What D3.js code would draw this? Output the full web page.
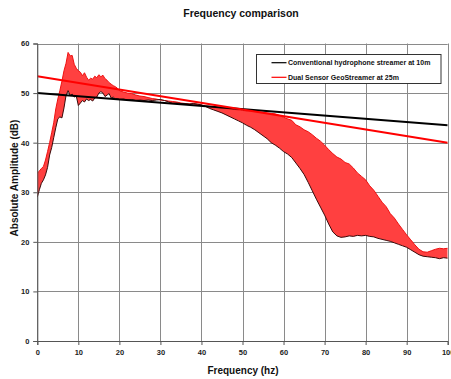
<!DOCTYPE html>
<html>
<head>
<meta charset="utf-8">
<script src="https://cdn.jsdelivr.net/npm/d3@7/dist/d3.min.js"></script>
<style>
  html, body { margin: 0; padding: 0; background: #fff; }
  svg { display: block; font-family: "Liberation Sans", Arial, sans-serif; }
</style>
</head>
<body>
<svg id="chart" width="451" height="379"></svg>
<script>
// Spectrum sample frequencies (Hz)
const freq = [
  0, 0.5, 1, 1.5, 2, 2.5, 3, 3.5, 4, 4.5, 5, 5.5, 6, 6.5, 7, 7.5, 8, 8.5, 9, 9.5,
  10, 10.5, 11, 11.5, 12, 12.5, 13, 13.5, 14, 14.5, 15, 15.5, 16, 16.5, 17, 17.5, 18, 18.5, 19, 19.5,
  20, 21, 22, 23, 24, 25, 26, 27, 28, 29, 30, 31, 32, 33, 34, 35, 36, 37, 38, 39,
  40, 41, 42, 43, 44, 45, 46, 47, 48, 49, 50, 51, 52, 53, 54, 55, 56, 57, 58, 59,
  60, 61, 62, 63, 64, 65, 66, 67, 68, 69, 70, 71, 72, 73, 74, 75, 76, 77, 78, 79,
  80, 81, 82, 83, 84, 85, 86, 87, 88, 89, 90, 91, 92, 93, 94, 95, 96, 97, 98, 99, 100
];

// Conventional hydrophone streamer at 10m (dB)
const conventional = [
  29.0, 30.5, 31.8, 32.5, 33.5, 35.0, 37.5, 39.0, 41.0, 43.0, 44.8, 45.2, 45.0, 47.0, 49.5, 50.5, 49.5, 49.8, 49.2, 49.4,
  47.5, 48.0, 48.5, 48.2, 48.8, 48.5, 48.7, 48.4, 49.0, 49.2, 50.0, 50.3, 50.0, 49.3, 49.6, 49.9, 49.0, 49.2, 48.8, 48.9,
  48.7, 48.8, 48.6, 48.7, 48.5, 48.6, 48.5, 48.6, 48.5, 48.6, 48.7, 48.5, 48.2, 47.9, 48.0, 47.9, 47.9, 47.8, 47.9, 47.8,
  47.6, 47.3, 46.9, 46.6, 46.3, 46.0, 45.6, 45.2, 44.8, 44.4, 44.0, 43.5, 43.1, 42.6, 42.0, 41.4, 40.8, 40.0, 39.5, 38.9,
  38.2, 37.7, 37.0, 35.9, 34.8, 33.6, 32.0, 30.3, 28.6, 27.0, 25.4, 23.6, 22.0, 21.2, 20.9, 21.0, 21.2, 21.1, 21.3, 21.2,
  21.3, 21.1, 21.0, 20.7, 20.5, 20.3, 20.1, 19.8, 19.5, 19.2, 18.9, 18.4, 17.9, 17.4, 17.1, 17.0, 16.9, 16.8, 16.6, 16.8, 16.7
];

// Dual Sensor GeoStreamer at 25m (dB)
const dualSensor = [
  33.8, 34.3, 34.8, 35.2, 36.5, 38.2, 40.0, 42.0, 44.0, 46.8, 48.8, 50.5, 52.4, 54.5, 56.0, 58.2, 57.5, 57.6, 55.8, 55.0,
  54.5, 54.2, 53.5, 54.1, 53.2, 52.6, 53.0, 52.8, 53.4, 53.1, 53.7, 53.3, 53.6, 52.9, 52.6, 52.1, 51.8, 51.5, 51.3, 51.0,
  50.5, 50.2, 50.0, 49.9, 49.6, 49.4, 49.3, 49.1, 48.9, 48.8, 48.6, 48.5, 48.4, 48.3, 48.2, 48.0, 47.9, 47.8, 47.8, 47.7,
  47.6, 47.4, 47.3, 47.2, 47.1, 47.0, 46.9, 46.8, 46.7, 46.6, 46.5, 46.4, 46.3, 46.3, 46.2, 46.1, 46.0, 45.9, 45.8, 45.5,
  45.1, 44.8, 44.5, 43.6, 43.2, 42.6, 42.2, 41.6, 40.9, 40.3, 39.5, 38.6, 37.8, 37.1, 36.7, 36.0, 35.7, 34.9, 33.9, 33.2,
  32.5, 31.3, 30.4, 29.2, 28.0, 27.1, 25.7, 24.8, 23.6, 22.5, 21.4, 20.4, 19.4, 18.5, 18.0, 17.9, 18.2, 18.5, 18.7, 18.6, 18.7
];

// Straight-line trends: [value at 0 Hz, value at 100 Hz]
const trendFreq = [0, 100];
const conventionalTrend = [50.0, 43.5];
const dualSensorTrend = [53.4, 40.0];

const xTicks = [0, 10, 20, 30, 40, 50, 60, 70, 80, 90, 100];
const yTicks = [0, 10, 20, 30, 40, 50, 60];

const seriesNames = ["Conventional hydrophone streamer at 10m", "Dual Sensor GeoStreamer at 25m"];
const seriesColors = ["#000000", "#ff0000"];

const svg = d3.select("#chart");

const x = d3.scaleLinear().domain([0, 100]).range([37.3, 447.7]);
const y = d3.scaleLinear().domain([0, 60]).range([341, 43.5]);

// Title
svg.append("text")
  .attr("x", 241).attr("y", 17)
  .attr("text-anchor", "middle")
  .attr("font-size", 10.5).attr("font-weight", "bold")
  .attr("fill", "#111")
  .text("Frequency comparison");

// Grid
const grid = svg.append("g").attr("stroke", "#8a8a8a").attr("stroke-width", 1);
xTicks.forEach(t => {
  grid.append("line")
    .attr("x1", Math.round(x(t)) + 0.5).attr("x2", Math.round(x(t)) + 0.5)
    .attr("y1", y(60)).attr("y2", y(0));
});
yTicks.forEach(t => {
  grid.append("line")
    .attr("x1", x(0)).attr("x2", x(100))
    .attr("y1", Math.round(y(t)) + 0.5).attr("y2", Math.round(y(t)) + 0.5);
});

// Band between the two spectra
const clip = svg.append("clipPath").attr("id", "plotClip")
  .append("rect")
  .attr("x", x(0)).attr("y", y(60))
  .attr("width", x(100) - x(0)).attr("height", y(0) - y(60));

const rows = freq.map((f, i) => ({ f, lo: conventional[i], hi: dualSensor[i] }));

const plot = svg.append("g").attr("clip-path", "url(#plotClip)");

plot.append("path")
  .datum(rows)
  .attr("d", d3.area().x(d => x(d.f)).y0(d => y(d.lo)).y1(d => y(d.hi)))
  .attr("fill", "#ff4040");

plot.append("path")
  .datum(rows)
  .attr("d", d3.line().x(d => x(d.f)).y(d => y(d.hi)))
  .attr("fill", "none").attr("stroke", "#ee1111").attr("stroke-width", 1);

plot.append("path")
  .datum(rows)
  .attr("d", d3.line().x(d => x(d.f)).y(d => y(d.lo)))
  .attr("fill", "none").attr("stroke", "#3a0a0a").attr("stroke-width", 1);

// Trend lines
[conventionalTrend, dualSensorTrend].forEach((vals, k) => {
  plot.append("path")
    .datum(trendFreq.map((f, i) => [f, vals[i]]))
    .attr("d", d3.line().x(d => x(d[0])).y(d => y(d[1])))
    .attr("fill", "none")
    .attr("stroke", seriesColors[k])
    .attr("stroke-width", 2);
});

// Axes
const xAxis = svg.append("g")
  .attr("transform", `translate(0,${y(0)})`)
  .call(d3.axisBottom(x).tickValues(xTicks).tickSize(4).tickPadding(5).tickFormat(d3.format("d")));
const yAxis = svg.append("g")
  .attr("transform", `translate(${x(0)},0)`)
  .call(d3.axisLeft(y).tickValues(yTicks).tickSize(4).tickPadding(4).tickFormat(d3.format("d")));

[xAxis, yAxis].forEach(a => {
  a.select(".domain").attr("stroke", "#555");
  a.selectAll(".tick line").attr("stroke", "#555");
  a.selectAll(".tick text")
    .attr("font-size", 7.5).attr("font-weight", "bold")
    .attr("font-family", "'Liberation Sans', Arial, sans-serif")
    .attr("fill", "#222");
});

// Axis titles
svg.append("text")
  .attr("x", 243).attr("y", 374)
  .attr("text-anchor", "middle")
  .attr("font-size", 10).attr("font-weight", "bold").attr("fill", "#111")
  .text("Frequency (hz)");

svg.append("text")
  .attr("transform", `translate(18,${178}) rotate(-90)`)
  .attr("text-anchor", "middle")
  .attr("font-size", 10).attr("font-weight", "bold").attr("fill", "#111")
  .text("Absolute Amplitude (dB)");

// Legend
const legend = svg.append("g");
legend.append("rect")
  .attr("x", 256.5).attr("y", 54.5)
  .attr("width", 184.5).attr("height", 29)
  .attr("fill", "#fff").attr("stroke", "#333").attr("stroke-width", 1);

seriesNames.forEach((name, i) => {
  const ly = 62.7 + i * 14.6;
  legend.append("line")
    .attr("x1", 271.5).attr("x2", 286.5)
    .attr("y1", ly).attr("y2", ly)
    .attr("stroke", seriesColors[i]).attr("stroke-width", 1.2);
  legend.append("text")
    .attr("x", 288).attr("y", ly + 2.6)
    .attr("font-size", 7).attr("font-weight", "bold").attr("fill", "#111")
    .text(name);
});
</script>
</body>
</html>
